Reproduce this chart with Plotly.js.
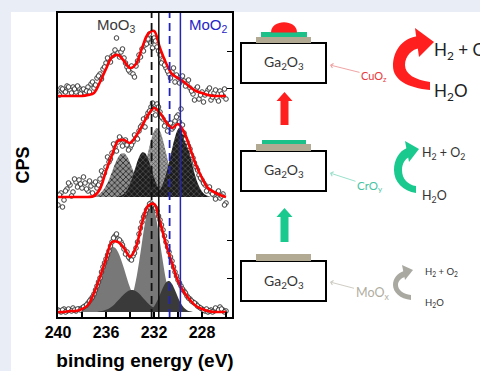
<!DOCTYPE html>
<html><head><meta charset="utf-8">
<script src="https://cdn.plot.ly/plotly-3.0.1.min.js"></script>
<style>html,body{margin:0;padding:0;background:#e9eef6}</style>
</head><body>
<div id="chart" style="width:480px;height:371px"></div>
<script>
// ---------- DATA (binding energy in eV, intensity in arbitrary counts above each baseline) ----------
const E_fit = [240,239.5,239,238.5,238,237.5,237,236.5,236,235.5,235,234.5,234,233.5,233,232.5,232,231.5,231,230.5,230,229.5,229,228.5,228,227.5,227,226.5,226];
const fitTop = [0,0,0,0,0,1,3,14,27,39,41,35,28,32,48,62,65,48,33,22,18,14,9,5,3,1,0,0,0];
const fitMid = [0,0,0,0,0,0,1,8,26,42,56,57,54,61,71,82,89,84,75,69,73,65,49,32,19,9,5,2,0];
const fitBot = [0,0,1,1,3,7,19,35,53,70,70,64,55,65,89,106,108,90,68,49,31,20,12,6,3,1,0,0,0];

const E_pts = [240,239.75,239.5,239.25,239,238.75,238.5,238.25,238,237.75,237.5,237.25,237,236.75,236.5,236.25,236,235.75,235.5,235.25,235,234.75,234.5,234.25,234,233.75,233.5,233.25,233,232.75,232.5,232.25,232,231.75,231.5,231.25,231,230.75,230.5,230.25,230,229.75,229.5,229.25,229,228.75,228.5,228.25,228,227.75,227.5,227.25,227,226.75,226.5,226.25,226];
const E_pts2 = [239.875,239.625,239.375,239.125,238.875,238.625,238.375,238.125,237.875,237.625,237.375,237.125,236.875,236.625,236.375,236.125,235.875,235.625,235.375,235.125,234.875,234.625,234.375,234.125,233.875,233.625,233.375,233.125,232.875,232.625,232.375,232.125,231.875,231.625,231.375,231.125,230.875,230.625,230.375,230.125,229.875,229.625,229.375,229.125,228.875,228.625,228.375,228.125,227.875,227.625,227.375,227.125,226.875,226.625,226.375,226.125];

const ptsTop = [3,8,5,10,6,9,4,8,6,3,9,12,8,18,22,27,33,36,40,46,43,44,38,29,24,22,30,41,47,51,57,53,58,49,41,36,28,22,24,14,19,17,15,12,8,2,7,-3,4,1,6,-4,3,-2,5,0,-3];
const ptsTop2 = [1,7,4,9,3,7,10,2,7,5,4,14,11,20,17,29,38,34,41,58,39,47,33,26,30,19,35,39,45,52,62,48,55,45,33,31,25,18,28,21,13,20,10,16,5,-4,9,1,-6,3,8,-1,6,-5,2,7];
const ptsMid = [-8,4,-3,8,12,5,15,17,9,14,6,11,13,9,18,22,30,35,44,50,55,58,56,52,49,55,60,66,72,70,84,90,88,93,85,78,74,70,68,76,82,88,64,55,48,39,30,22,17,12,8,5,2,4,-1,3,-6];
const ptsMid2 = [2,-10,6,14,1,18,10,13,20,8,16,4,15,12,26,24,40,38,53,46,60,51,57,47,52,62,58,70,78,80,86,94,82,90,80,71,66,74,70,80,75,72,58,51,42,34,27,19,14,6,10,3,-2,6,1,-8];
const ptsBot = [2,0,3,1,2,4,1,3,4,6,9,13,18,26,34,45,53,61,70,76,73,70,63,60,53,56,64,78,90,98,104,109,106,101,92,82,70,60,51,40,32,26,21,16,13,10,8,5,3,1,0,2,1,3,5,2,1];
const ptsBot2 = [1,2,0,3,1,2,3,2,5,7,11,15,22,30,40,49,57,66,74,78,72,67,58,55,52,59,70,84,95,102,108,107,104,96,87,76,65,55,45,36,29,23,19,14,11,9,6,4,2,3,1,0,4,2,3,0];

// fitted components, middle spectrum
const E_m1 = [237,236.75,236.5,236.25,236,235.75,235.5,235.25,235,234.75,234.5,234.25,234,233.75,233.5,233.25,233,232.75,232.5,232.25,232];
const mid1 = [0,1.8,3.6,6.7,11.3,17.6,25.1,32.9,39.4,43.3,43.7,40.4,34.3,26.7,19.0,12.5,7.5,4.1,2.1,1.0,0];
const E_m2 = [235,234.75,234.5,234.25,234,233.75,233.5,233.25,233,232.75,232.5,232.25,232,231.75,231.5,231.25,231,230.75];
const mid2 = [0,1.4,3.3,7.0,13.1,21.5,31.2,39.7,44.5,44.0,38.2,29.2,19.7,11.7,6.1,2.8,1.1,0];
const E_m3 = [234.25,234,233.75,233.5,233.25,233,232.75,232.5,232.25,232,231.75,231.5,231.25,231,230.75,230.5,230.25,230,229.75,229.5,229.25];
const mid3 = [0,1.3,3.0,6.3,11.9,20.4,31.6,44.5,56.8,65.7,69,65.7,56.8,44.5,31.6,20.4,11.9,6.3,3.0,1.3,0];
const E_m4 = [232.25,232,231.75,231.5,231.25,231,230.75,230.5,230.25,230,229.75,229.5,229.25,229,228.75,228.5,228.25,228,227.75,227.5,227.25];
const mid4 = [0,1.6,3.6,7.3,13.5,22.7,34.6,47.7,59.8,67.8,69.9,65.3,55.3,42.5,29.6,18.7,10.7,5.6,2.6,1.1,0];

// fitted components, bottom spectrum
const E_b1 = [238.5,238.25,238,237.75,237.5,237.25,237,236.75,236.5,236.25,236,235.75,235.5,235.25,235,234.75,234.5,234.25,234,233.75,233.5,233.25,233,232.75,232.5,232.25];
const bot1 = [0,1.1,2.2,4.1,7.2,11.7,18.1,26.1,35.5,45.3,54.3,61.1,64.7,64.3,60.0,52.6,43.4,33.6,24.4,16.7,10.7,6.4,3.6,2.0,1.0,0];
const E_b2 = [236.75,236.5,236.25,236,235.75,235.5,235.25,235,234.75,234.5,234.25,234,233.75,233.5,233.25,233,232.75,232.5,232.25,232,231.75,231.5,231.25,231];
const bot2 = [0,0.7,1.2,2.2,3.6,5.6,8.3,11.4,14.7,17.8,20.3,21.8,21.9,20.7,18.4,15.3,12.0,8.8,6.1,4.0,2.4,1.4,0.7,0];
const E_b3 = [235,234.75,234.5,234.25,234,233.75,233.5,233.25,233,232.75,232.5,232.25,232,231.75,231.5,231.25,231,230.75,230.5,230.25,230,229.75,229.5];
const bot3 = [0,0.8,2.1,4.8,9.9,18.6,31.9,49.5,69.7,88.9,102.8,108,102.8,88.9,69.7,49.5,31.9,18.6,9.9,4.8,2.1,0.8,0];
const E_b4 = [232.75,232.5,232.25,232,231.75,231.5,231.25,231,230.75,230.5,230.25,230,229.75,229.5,229.25,229,228.75];
const bot4 = [0,1.0,2.6,5.6,10.7,17.4,24.4,29.6,30.9,27.9,21.7,14.5,8.4,4.2,1.8,0.7,0];

// stacking offsets of the three spectra
const offsetTop = 216, offsetMid = 115, offsetBot = 0;

// reference positions (eV)
const refE = [232.2, 231.6, 230.7, 229.8];
const xTickVals = [240,236,232,228];
const xTickText = ['240','236','232','228'];
const xMinorVals = [238,234,230,226];

// ---------- styles ----------
const refColor = ['#111111','#111111','#2424b4','#2424b4'];
const refDash = ['8px,5px','solid','8px,5px','solid'];
const refWidth = [1.8,1.5,1.8,1.5];
const BOLD = {family:'Liberation Sans, Arial, sans-serif', weight:'bold', color:'#000'};
const SF = 'Lato, "Noto Sans", sans-serif';

const sh = (a,o) => a.map(v => v + o);

function comp(x, y, off, fill, pattern){
  const t = {type:'scatter', x:x, y:sh(y,off), mode:'lines', line:{width:0, shape:'spline'},
    fill:'toself', fillcolor:fill, hoverinfo:'skip', showlegend:false};
  if (pattern) t.fillpattern = pattern;
  return t;
}
function pts(x, y, off){
  return {type:'scatter', x:x, y:sh(y,off), mode:'markers', hoverinfo:'skip', showlegend:false,
    marker:{symbol:'circle', size:4.6, color:'#ffffff', line:{color:'#2a2a2a', width:0.9}}};
}
function fit(y, off, ax){
  return {type:'scatter', x:E_fit, y:sh(y,off), mode:'lines', yaxis:ax||'y', hoverinfo:'skip', showlegend:false,
    line:{color:'#ff0000', width:2.6, shape:'spline', smoothing:1}};
}

const patGray = {shape:'x', fgcolor:'#2c2c2c', bgcolor:'#8e8e8e', size:4, solidity:0.4};
const patDark = {shape:'x', fgcolor:'#5a5a5a', bgcolor:'#1c1c1c', size:4, solidity:0.3};
const patLight = {shape:'x', fgcolor:'#444444', bgcolor:'#a0a0a0', size:3, solidity:0.35};

const traces = [
  comp(E_b1, bot1, offsetBot, '#787878'),
  comp(E_b3, bot3, offsetBot, '#787878'),
  comp(E_b2, bot2, offsetBot, '#3a3a3a'),
  comp(E_b4, bot4, offsetBot, '#3a3a3a'),
  comp(E_m1, mid1, offsetMid, '#8e8e8e', patGray),
  comp(E_m3, mid3, offsetMid, '#a0a0a0', patLight),
  comp(E_m2, mid2, offsetMid, '#1c1c1c', patDark),
  comp(E_m4, mid4, offsetMid, '#1c1c1c', patDark),
  pts(E_pts, ptsBot, offsetBot), pts(E_pts2, ptsBot2, offsetBot),
  pts(E_pts, ptsMid, offsetMid), pts(E_pts2, ptsMid2, offsetMid),
  pts(E_pts, ptsTop, offsetTop), pts(E_pts2, ptsTop2, offsetTop),
  fit(fitBot, offsetBot), fit(fitMid, offsetMid), fit(fitTop, offsetTop, 'y2')
];

// ---------- schematic helpers (pixel -> paper) ----------
const X = p => p/480, Y = p => 1 - p/371;
function pp(d){ let i=0; return d.replace(/-?\d+(\.\d+)?/g, m => { const v=parseFloat(m); const o=(i%2===0)?v/480:1-v/371; i++; return o.toFixed(5); }); }
const P = (d, fill) => ({type:'path', xref:'paper', yref:'paper', path:pp(d), fillcolor:fill, line:{width:0}});
const R = (x0,y0,x1,y1,fill,lw) => ({type:'rect', xref:'paper', yref:'paper', x0:X(x0), x1:X(x1), y0:Y(y0), y1:Y(y1), fillcolor:fill, line:{width:lw||0, color:'#000'}});

const shapes = [
  Object.assign(R(11,12,485,376,'#ffffff'), {layer:'below'}),
  // top stack
  R(241,43,326,83,'#ffffff',2), R(256,37,311,43,'#b2aa93'), R(261,32,307,37,'#1cc089'),
  P('M 271 32.5 C 271 19 297 19 297 32.5 Z', '#ff1f1f'),
  P('M 284.5 92 L 292.5 101 L 288.5 101 L 288.5 125 L 280.5 125 L 280.5 101 L 276.5 101 Z', '#ff1f1f'),
  P('M 419 36 C 401 38 393 52 393 66 C 393 80 408 88 430 90 L 430 82 C 415 80 405 74 405 65 C 405 56 412 49 420 48 Z', '#ff1f1f'),
  P('M 415 28 L 434 42 L 419 57 Z', '#ff1f1f'),
  // middle stack
  R(241,151,326,191,'#ffffff',2), R(256,144,311,151,'#b2aa93'), R(262,140,306,144,'#1cc089'),
  P('M 284.5 208 L 292.5 217 L 288.5 217 L 288.5 242 L 280.5 242 L 280.5 217 L 276.5 217 Z', '#19c98e'),
  P('M 407 148 C 399 151 394 160 394 170 C 394 182 403 191 416 193 L 416 186 C 408 185 402 179 402 170 C 402 164 405 159 409 157 Z', '#19c98e'),
  P('M 405 141 L 419 149 L 409 162 Z', '#19c98e'),
  // bottom stack
  R(241,261,326,301,'#ffffff',2), R(256,254,311,261,'#b2aa93'),
  P('M 404 271 C 397 273 393 279 393 285 C 393 292 400 299 411 300 L 411 295 C 403 294 398 290 398 285 C 398 281 401 278 405 277 Z', '#a9a9a1'),
  P('M 402 265 L 413 270 L 405 280 Z', '#a9a9a1')
];
refE.forEach((e,i) => shapes.push({type:'line', xref:'x', yref:'y domain', x0:e, x1:e, y0:0, y1:1,
  line:{color:refColor[i], width:refWidth[i], dash:refDash[i]}}));

function T(text, px, py, size, color, xa){
  return {text:text, xref:'paper', yref:'paper', x:X(px), y:Y(py), xanchor:xa||'left', yanchor:'middle',
    showarrow:false, font:{family:SF, size:size, color:color}};
}
function ptr(text, tx, ty, cx, cy, size, color, lc){
  return {text:text, xref:'paper', yref:'paper', x:X(tx), y:Y(ty), ax:cx-tx, ay:cy-ty, showarrow:true,
    arrowhead:4, arrowsize:1, arrowwidth:0.9, arrowcolor:lc, font:{family:SF, size:size, color:color}};
}
const annotations = [
  {text:'MoO<sub>3</sub>', xref:'x', yref:'y', x:235.1, y:287, showarrow:false, font:{family:'Liberation Sans, Arial', size:15, color:'#3a3a3a'}},
  {text:'MoO<sub>2</sub>', xref:'x', yref:'y', x:227.5, y:287, showarrow:false, font:{family:'Liberation Sans, Arial', size:15, color:'#2424c8'}},
  T('Ga<sub>2</sub>O<sub>3</sub>', 283.5, 63, 14, '#333', 'center'),
  T('Ga<sub>2</sub>O<sub>3</sub>', 283.5, 171, 14, '#333', 'center'),
  T('Ga<sub>2</sub>O<sub>3</sub>', 283.5, 281, 14, '#333', 'center'),
  T('H<sub>2</sub> + O<sub>2</sub>', 432, 51, 17, '#222'),
  T('H<sub>2</sub>O', 432, 92, 17, '#222'),
  T('H<sub>2</sub> + O<sub>2</sub>', 420, 153, 12.5, '#333'),
  T('H<sub>2</sub>O', 420, 196, 12.5, '#333'),
  T('H<sub>2</sub> + O<sub>2</sub>', 423, 272, 9.5, '#333'),
  T('H<sub>2</sub>O', 423, 303, 9.5, '#333'),
  ptr('CuO<sub>z</sub>', 330, 65, 374, 76, 11, '#e8383d', '#ee9a9a'),
  ptr('CrO<sub>y</sub>', 330, 173, 370, 186, 11.5, '#45c4a2', '#8fdcc6'),
  ptr('MoO<sub>x</sub>', 330, 282, 372, 293, 12.5, '#b0ad9f', '#c8c6bc')
];

const layout = {
  width:480, height:371, margin:{l:0,r:0,t:0,b:0},
  paper_bgcolor:'#e9eef6', plot_bgcolor:'#ffffff', showlegend:false,
  xaxis:{domain:[58/480, 232/480], range:[240,225.5], tickmode:'array', tickvals:xTickVals, ticktext:xTickText,
    ticks:'inside', ticklen:5, tickwidth:1.5, tickcolor:'#000', tickfont:Object.assign({size:16}, BOLD),
    minor:{tickmode:'array', tickvals:xMinorVals, ticks:'inside', ticklen:5, tickwidth:1.5, tickcolor:'#000', showgrid:false},
    showline:true, mirror:true, linecolor:'#000', linewidth:2, showgrid:false, zeroline:false,
    title:{text:'binding energy (eV)', font:Object.assign({size:19}, BOLD), standoff:19}},
  yaxis:{domain:[1-317/371, 1-13/371], range:[-5,299], showticklabels:false, ticks:'',
    showline:true, mirror:true, linecolor:'#000', linewidth:2, showgrid:false, zeroline:false,
    title:{text:'CPS', font:Object.assign({size:18}, BOLD), standoff:22}},
  yaxis2:{overlaying:'y', anchor:'x', side:'right', range:[-5,299], tickvals:[34,72,224,261], ticks:'inside',
    ticklen:5, tickcolor:'#000', showticklabels:false, showline:false, showgrid:false, zeroline:false},
  shapes:shapes, annotations:annotations
};
Plotly.newPlot('chart', traces, layout, {displayModeBar:false, staticPlot:true});
</script>
</body></html>
